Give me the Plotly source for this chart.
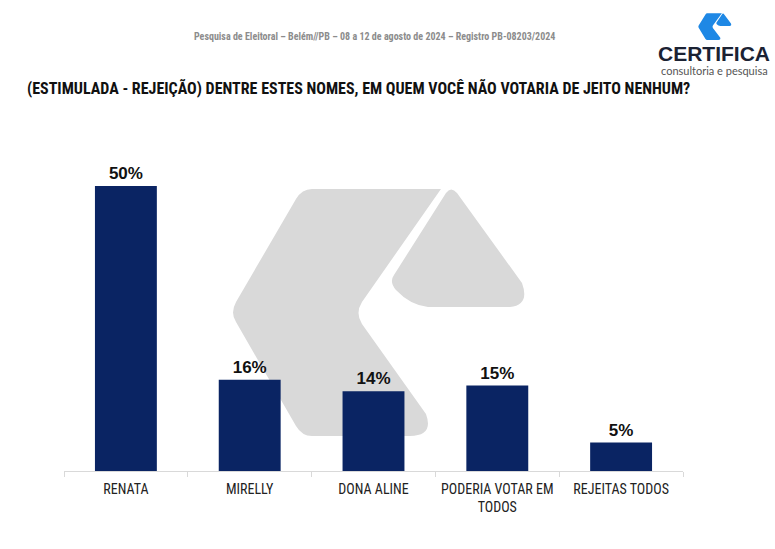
from plotly import graph_objects as go

# data
categorias = ["RENATA", "MIRELLY", "DONA ALINE", "PODERIA VOTAR EM<br>TODOS", "REJEITAS TODOS"]
valores = [50, 16, 14, 15, 5]
rotulos = ["50%", "16%", "14%", "15%", "5%"]

W, H = 775, 549
L, R, T, B = 64, 92, 165, 78
plot_w = W - L - R
plot_h = H - T - B
px_per_pct = 5.7


def px(x, y):
    # pixel position -> paper coords
    return (x - L) / plot_w, (H - B - y) / plot_h


def path(cmds, sx=1.0, sy=1.0, ox=0.0, oy=0.0):
    out = []
    for c in cmds:
        if isinstance(c, str):
            out.append(c)
        else:
            xx, yy = px((c[0] - 230) * sx + 230 + ox, (c[1] - 186) * sy + 186 + oy)
            out.append(f"{xx:.4f},{yy:.4f}")
    return " ".join(out)


# logo outline in pixel coords (watermark size)
logo_a = ["M", (312, 189), "L", (441, 189), "L", (362, 302), "Q", (355, 313), (362, 324),
          "L", (426, 414), "Q", (434, 436), (410, 436), "L", (312, 436), "Q", (302, 436), (296, 426),
          "L", (236, 322), "Q", (230, 313), (236, 302), "L", (296, 199), "Q", (302, 189), (312, 189), "Z"]
logo_b = ["M", (446, 193), "Q", (451, 186), (457, 193), "L", (522, 283), "Q", (530, 305), (510, 307),
          "L", (428, 307), "Q", (410, 305), (396, 290), "Q", (389, 282), (394, 275), "Z"]

fig = go.Figure()

fig.add_trace(go.Bar(
    x=categorias,
    y=valores,
    text=rotulos,
    textposition="outside",
    cliponaxis=False,
    textfont=dict(family="Liberation Sans, Arial", size=17, color="#111111", weight="bold"),
    marker=dict(color="#0a2463", line=dict(width=0)),
    width=0.5,
))

shapes = []
for p_ in (logo_a, logo_b):
    # big gray watermark
    shapes.append(dict(type="path", path=path(p_), xref="paper", yref="paper", layer="below",
                       fillcolor="#d9d9d9", line=dict(width=0)))
    # small blue icon top right
    shapes.append(dict(type="path", path=path(p_, 0.113, 0.108, 698 - 230, 13 - 186),
                       xref="paper", yref="paper", layer="above",
                       fillcolor="#1e88e5", line=dict(width=0)))

annotations = [
    dict(text="Pesquisa de Eleitoral – Belém//PB – 08 a 12 de agosto de 2024 – Registro PB-08203/2024",
         xref="paper", yref="paper", x=px(374, 37)[0], y=px(374, 37)[1], showarrow=False,
         xanchor="center", yanchor="middle",
         font=dict(family="Liberation Sans Narrow, Roboto Condensed, Arial Narrow", size=10, color="#8c8c8c",
                   weight="bold")),
    dict(text="(ESTIMULADA - REJEIÇÃO) DENTRE ESTES NOMES, EM QUEM VOCÊ NÃO VOTARIA DE JEITO NENHUM?",
         xref="paper", yref="paper", x=px(25, 88)[0], y=px(25, 88)[1], showarrow=False,
         xanchor="left", yanchor="middle",
         font=dict(family="Liberation Sans Narrow, Roboto Condensed, Arial Narrow", size=16, color="#111111",
                   weight="bold")),
    dict(text="CERTIFICA", xref="paper", yref="paper", x=px(714, 54)[0], y=px(714, 54)[1], showarrow=False,
         xanchor="center", yanchor="middle",
         font=dict(family="Liberation Sans, Arial", size=21, color="#1b2233", weight="bold")),
    dict(text="consultoria e pesquisa", xref="paper", yref="paper", x=px(714, 70)[0], y=px(714, 70)[1],
         showarrow=False, xanchor="center", yanchor="middle",
         font=dict(family="Lato, Liberation Sans", size=11, color="#555555")),
]

fig.update_layout(
    width=W, height=H,
    margin=dict(l=L, r=R, t=T, b=B),
    paper_bgcolor="white",
    plot_bgcolor="rgba(0,0,0,0)",
    showlegend=False,
    shapes=shapes,
    annotations=annotations,
    bargap=0.5,
)
fig.update_xaxes(
    showline=True, linecolor="#d9d9d9", linewidth=1,
    ticks="outside", tickson="boundaries", tickcolor="#d9d9d9", ticklen=5,
    ticklabelstandoff=5,
    tickfont=dict(family="Liberation Sans Narrow, Roboto Condensed, Arial Narrow", size=14, color="#222222"),
    showgrid=False,
)
fig.update_yaxes(visible=False, range=[0, plot_h / px_per_pct], showgrid=False)

fig.write_html("out.html", config={"displayModeBar": False},
               post_script="document.body.style.margin='0px';")
